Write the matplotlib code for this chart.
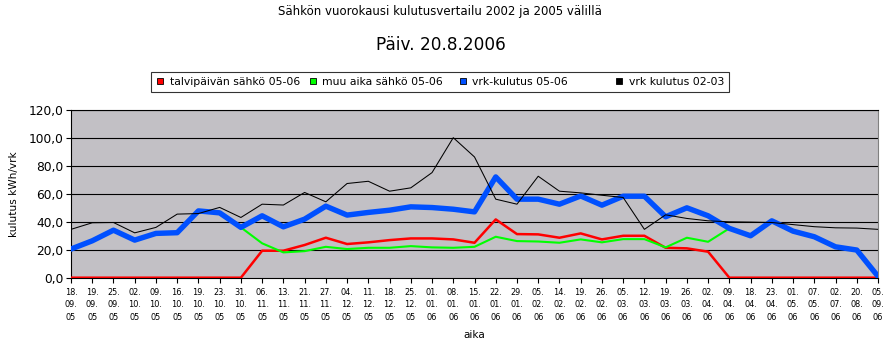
import numpy as np
import matplotlib
matplotlib.use("Agg")
import matplotlib.pyplot as plt
from matplotlib.lines import Line2D

dates = [
    "18.09.05", "19.09.05", "25.09.05", "02.10.05", "09.10.05", "16.10.05",
    "19.10.05", "23.10.05", "31.10.05", "06.11.05", "13.11.05", "21.11.05",
    "27.11.05", "04.12.05", "11.12.05", "18.12.05", "25.12.05", "01.01.06",
    "08.01.06", "15.01.06", "22.01.06", "29.01.06", "05.02.06", "14.02.06",
    "19.02.06", "26.02.06", "05.03.06", "12.03.06", "19.03.06", "26.03.06",
    "02.04.06", "09.04.06", "18.04.06", "23.04.06", "01.05.06", "07.05.06",
    "02.07.06", "20.08.06", "05.09.06",
]

nan = np.nan
talvi_05_06 = [
    0, 0, 0, 0, 0, 0, 0, 0, 0,
    19.3, 19.3, 23.4, 28.6, 24.1, 25.3, 26.9, 28.1, 28.1, 27.4, 25.0, 41.7,
    31.2, 31.0, 28.6, 31.7, 27.4, 30.0, 30.0, 21.4, 21.0, 18.6,
    0, 0, 0, 0, 0, 0, 0, 0,
]
muu_05_06 = [
    nan, nan, nan, nan, nan, nan, nan, nan,
    36.0, 24.6, 18.1, 19.0, 22.1, 20.5, 21.4, 21.4, 22.6, 21.7, 21.4, 22.1,
    29.3, 26.2, 25.9, 25.0, 27.4, 25.3, 27.6, 27.6, 21.7, 28.6, 25.7, 35.3,
    nan, nan, nan, nan, nan, nan, nan,
]
vrk_05_06 = [
    20.5, 26.4, 34.0, 26.9, 31.7, 32.2, 47.8, 46.4, 36.0, 44.3, 36.4, 41.9,
    51.2, 44.8, 46.7, 48.3, 50.7, 50.2, 49.0, 47.1, 72.1, 56.2, 56.2, 52.6,
    58.5, 51.9, 58.3, 58.3, 43.6, 50.0, 44.3, 35.3, 30.0, 40.7, 33.3, 29.3,
    22.1, 19.8, 1.0,
]
vrk_02_03 = [
    34.6, 39.3, 39.5, 32.1, 36.0, 45.5, 45.9, 50.3, 43.1, 52.6, 52.0, 61.0,
    54.3, 67.4, 69.0, 61.9, 64.3, 75.2, 100.2, 86.4, 56.2, 52.6, 72.6, 61.9,
    60.7, 59.0, 57.4, 34.6, 45.0, 42.4, 40.7, 40.0, 39.8, 39.5, 38.0, 36.5,
    35.7, 35.5, 34.6,
]

y_ticks = [0, 20, 40, 60, 80, 100, 120]
y_labels = ["0,0", "20,0", "40,0", "60,0", "80,0", "100,0", "120,0"]

plt.rcParams["font.family"] = "DejaVu Sans"

fig = plt.figure(figsize=(8.88, 3.45), dpi=100)
ax = fig.add_axes([71 / 888, 1 - 277.7 / 345, (878 - 71) / 888, (277.7 - 110) / 345])
ax.set_facecolor("#c2c0c5")

x = np.arange(len(dates))
ax.plot(x, talvi_05_06, color="#ff0000", lw=1.8, zorder=3)
ax.plot(x, muu_05_06, color="#00ff00", lw=1.5, zorder=3)
ax.plot(x, vrk_05_06, color="#0050ff", lw=3.9, zorder=4)
ax.plot(x, vrk_02_03, color="black", lw=0.75, zorder=5)

ax.set_xlim(0, len(dates) - 1)
ax.set_ylim(0, 120)
ax.set_yticks(y_ticks)
ax.set_yticklabels(y_labels, fontsize=8.8)
ax.set_xticks(x)
ax.set_xticklabels([d[:3] + "\n" + d[3:6] + "\n" + d[6:] for d in dates],
                   fontsize=5.9, linespacing=1.45)
ax.tick_params(axis="both", direction="out", length=3.6, width=0.8, color="black")
ax.tick_params(axis="x", pad=4)
ax.tick_params(axis="y", pad=2)
# horizontal gridlines
for yv in y_ticks[1:]:
    ax.axhline(yv, color="black", lw=0.8, zorder=1)

ax.spines["left"].set_color("black")
ax.spines["bottom"].set_color("black")
ax.spines["top"].set_color("black")
ax.spines["right"].set_color("#808080")
for s in ax.spines.values():
    s.set_linewidth(0.8)

ax.set_ylabel("kulutus kWh/vrk", fontsize=7.6, labelpad=7)
ax.set_xlabel("aika", fontsize=7.5, labelpad=6)

fig.text(440 / 888, 1 - 12 / 345, "Sähkön vuorokausi kulutusvertailu 2002 ja 2005 välillä",
         ha="center", va="center", fontsize=8.5)
fig.text(441 / 888, 1 - 45 / 345, "Päiv. 20.8.2006", ha="center", va="center", fontsize=12.2)

# legend: padded labels to mimic equal-width columns
labels = ["talvipäivän sähkö 05-06", "muu aika sähkö 05-06  ",
          "vrk-kulutus 05-06           ", "vrk kulutus 02-03"]
colors = ["#ff0000", "#00ff00", "#0050ff", "black"]
handles = [Line2D([], [], ls="none", marker="s", markersize=5, markerfacecolor=c,
                  markeredgecolor="black", markeredgewidth=0.6) for c in colors]
leg = fig.legend(handles, labels, ncol=4, loc="center",
                 bbox_to_anchor=(440 / 888, 1 - 82 / 345),
                 fontsize=7.8, frameon=True, fancybox=False, shadow=False,
                 handlelength=0.8, handletextpad=0.5, columnspacing=0.75,
                 borderpad=0.45, borderaxespad=0)
leg.get_frame().set_edgecolor("black")
leg.get_frame().set_linewidth(0.8)

fig.savefig("out.png", dpi=100)
